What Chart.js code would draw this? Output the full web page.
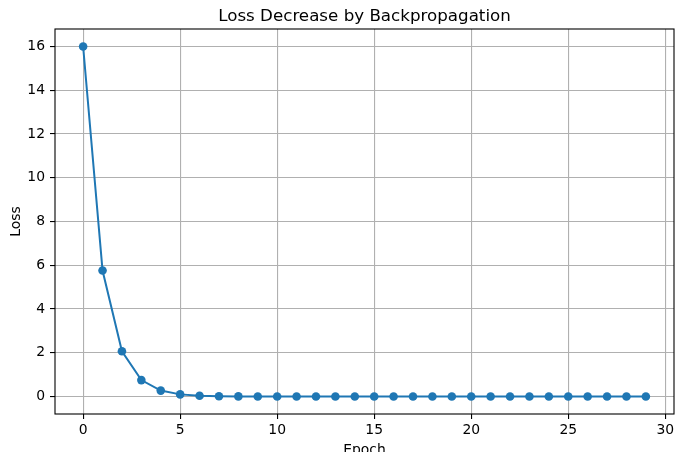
<!DOCTYPE html>
<html>
<head>
<meta charset="utf-8">
<script src="https://cdn.jsdelivr.net/npm/chart.js@4/dist/chart.umd.min.js"></script>
<style>
html,body{margin:0;padding:0;background:#fff;}
#wrap{width:684px;height:452px;position:relative;}
</style>
</head>
<body>
<div id="wrap"><canvas id="c" width="684" height="452"></canvas></div>
<script>
const epochs = [0,1,2,3,4,5,6,7,8,9,10,11,12,13,14,15,16,17,18,19,20,21,22,23,24,25,26,27,28,29];
const lossValues = [16.0, 5.76, 2.07, 0.75, 0.27, 0.097, 0.035, 0.0125, 0.0045, 0.0016,
  0.0006, 0.0002, 0.0001, 0.0, 0.0, 0.0, 0.0, 0.0, 0.0, 0.0,
  0.0, 0.0, 0.0, 0.0, 0.0, 0.0, 0.0, 0.0, 0.0, 0.0];
const xTicks = [0,5,10,15,20,25,30];
const yTicks = [0,2,4,6,8,10,12,14,16];
const chartTitle = 'Loss Decrease by Backpropagation';
const xLabel = 'Epoch';
const yLabel = 'Loss';

const FONT = 'DejaVu Sans';
const frame = {
  id: 'frame',
  afterDraw(chart) {
    const ctx = chart.ctx, a = chart.chartArea;
    ctx.save();
    ctx.strokeStyle = '#000';
    ctx.lineWidth = 1.1;
    ctx.strokeRect(a.left, a.top, a.right - a.left, a.bottom - a.top);
    ctx.fillStyle = '#000';
    ctx.font = '16.7px "' + FONT + '"';
    ctx.textAlign = 'center';
    ctx.textBaseline = 'alphabetic';
    ctx.fillText(chartTitle, (a.left + a.right) / 2, 21);
    ctx.font = '13.9px "' + FONT + '"';
    ctx.fillText(xLabel, (a.left + a.right) / 2, 453.5);
    ctx.translate(19.5, (a.top + a.bottom) / 2);
    ctx.rotate(-Math.PI / 2);
    ctx.fillText(yLabel, 0, 0);
    ctx.restore();
  }
};

new Chart(document.getElementById('c'), {
  type: 'line',
  data: {
    datasets: [{
      data: epochs.map((e, i) => ({x: e, y: lossValues[i]})),
      borderColor: '#1f77b4',
      backgroundColor: '#1f77b4',
      borderWidth: 2,
      pointRadius: 4.3,
      pointBorderWidth: 0,
      pointHoverRadius: 4.3,
      tension: 0,
      clip: false
    }]
  },
  options: {
    responsive: false,
    animation: false,
    events: [],
    layout: {padding: {left: 0, right: 10, top: 29, bottom: 0}},
    plugins: {legend: {display: false}, title: {display: false}, tooltip: {enabled: false}},
    scales: {
      x: {
        type: 'linear',
        min: -1.45, max: 30.45,
        afterBuildTicks: s => { s.ticks = xTicks.map(v => ({value: v})); },
        afterFit: s => { s.height = 38; },
        grid: {color: '#b0b0b0', lineWidth: 1.1, tickColor: '#000', tickLength: 5, tickWidth: 1.1},
        border: {display: false},
        ticks: {color: '#000', font: {family: FONT, size: 13.9}, padding: 3, maxRotation: 0, autoSkip: false}
      },
      y: {
        type: 'linear',
        min: -0.8, max: 16.8,
        afterBuildTicks: s => { s.ticks = yTicks.map(v => ({value: v})); },
        afterFit: s => { s.width = 55; },
        grid: {color: '#b0b0b0', lineWidth: 1.1, tickColor: '#000', tickLength: 5, tickWidth: 1.1},
        border: {display: false},
        ticks: {color: '#000', font: {family: FONT, size: 13.9}, padding: 5, autoSkip: false}
      }
    }
  },
  plugins: [frame]
});
</script>
</body>
</html>
